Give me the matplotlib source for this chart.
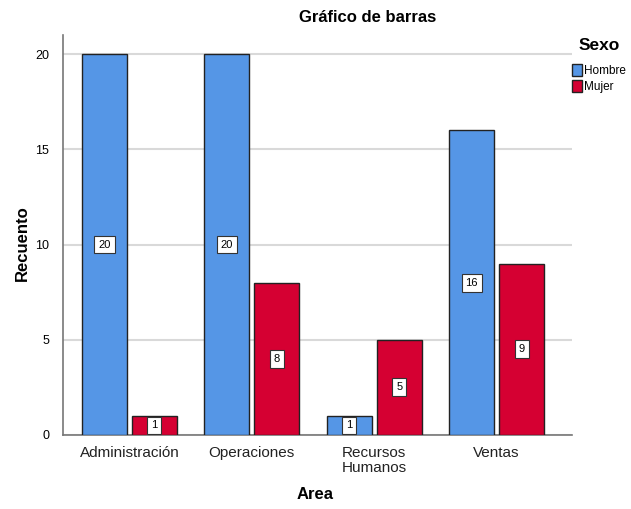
import numpy as np
import matplotlib.pyplot as plt

plt.rcParams['font.family'] = ['Liberation Sans Narrow', 'Liberation Sans', 'DejaVu Sans']

areas = ['Administración', 'Operaciones', 'Recursos\nHumanos', 'Ventas']
hombre = [20, 20, 1, 16]
mujer = [1, 8, 5, 9]
series = ['Hombre', 'Mujer']
colors = ['#5596E6', '#D50032']

fig = plt.figure(figsize=(6.31, 5.09), dpi=100)
ax = fig.add_axes([0.0998, 0.1454, 0.8067, 0.7856])

x = np.arange(len(areas))
w = 0.367
off = 0.204
bars = []
for vals, sign, c, name in zip([hombre, mujer], [-1, 1], colors, series):
    b = ax.bar(x + sign * off, vals, width=w, color=c, edgecolor='#222222',
               linewidth=1, label=name, zorder=3)
    bars.append(b)
    for xi, v in zip(x + sign * off, vals):
        ax.text(xi, v / 2, str(v), ha='center', va='center', fontsize=8, zorder=4,
                bbox=dict(boxstyle='square,pad=0.35', fc='white', ec='#333333', lw=0.8))

ax.set_xlim(-0.543, 3.616)
ax.set_ylim(0, 21)
ax.set_yticks([0, 5, 10, 15, 20])
ax.set_xticks(x)
ax.set_xticklabels(areas, fontsize=11, color='#222222', linespacing=1.1)
ax.tick_params(axis='y', length=0, labelsize=9, pad=10)
ax.tick_params(axis='x', length=0, pad=8)
ax.yaxis.grid(True, color='#d9d9d9', linewidth=1.5, zorder=0)
for s in ['top', 'right']:
    ax.spines[s].set_visible(False)
for s in ['left', 'bottom']:
    ax.spines[s].set_color('#777777')
    ax.spines[s].set_linewidth(1.2)

fig.text(0.036, 0.523, 'Recuento', rotation=90, ha='center', va='center',
         fontsize=12, fontweight='bold')
fig.text(0.5, 0.013, 'Area', ha='center', va='bottom', fontsize=12, fontweight='bold')
fig.text(0.582, 0.965, 'Gráfico de barras', ha='center', va='center', fontsize=12, fontweight='bold')

leg = fig.legend(handles=bars, labels=series, title='Sexo', loc='upper left',
                 bbox_to_anchor=(0.906, 0.925), frameon=False, fontsize=8.5,
                 handlelength=0.9, handleheight=1.2, handletextpad=0.15,
                 labelspacing=0.25, borderaxespad=0, borderpad=0)
leg.get_title().set_fontweight('bold')
leg.get_title().set_fontsize(12.5)
leg._legend_box.sep = 8

fig.savefig('out.png', dpi=100)
